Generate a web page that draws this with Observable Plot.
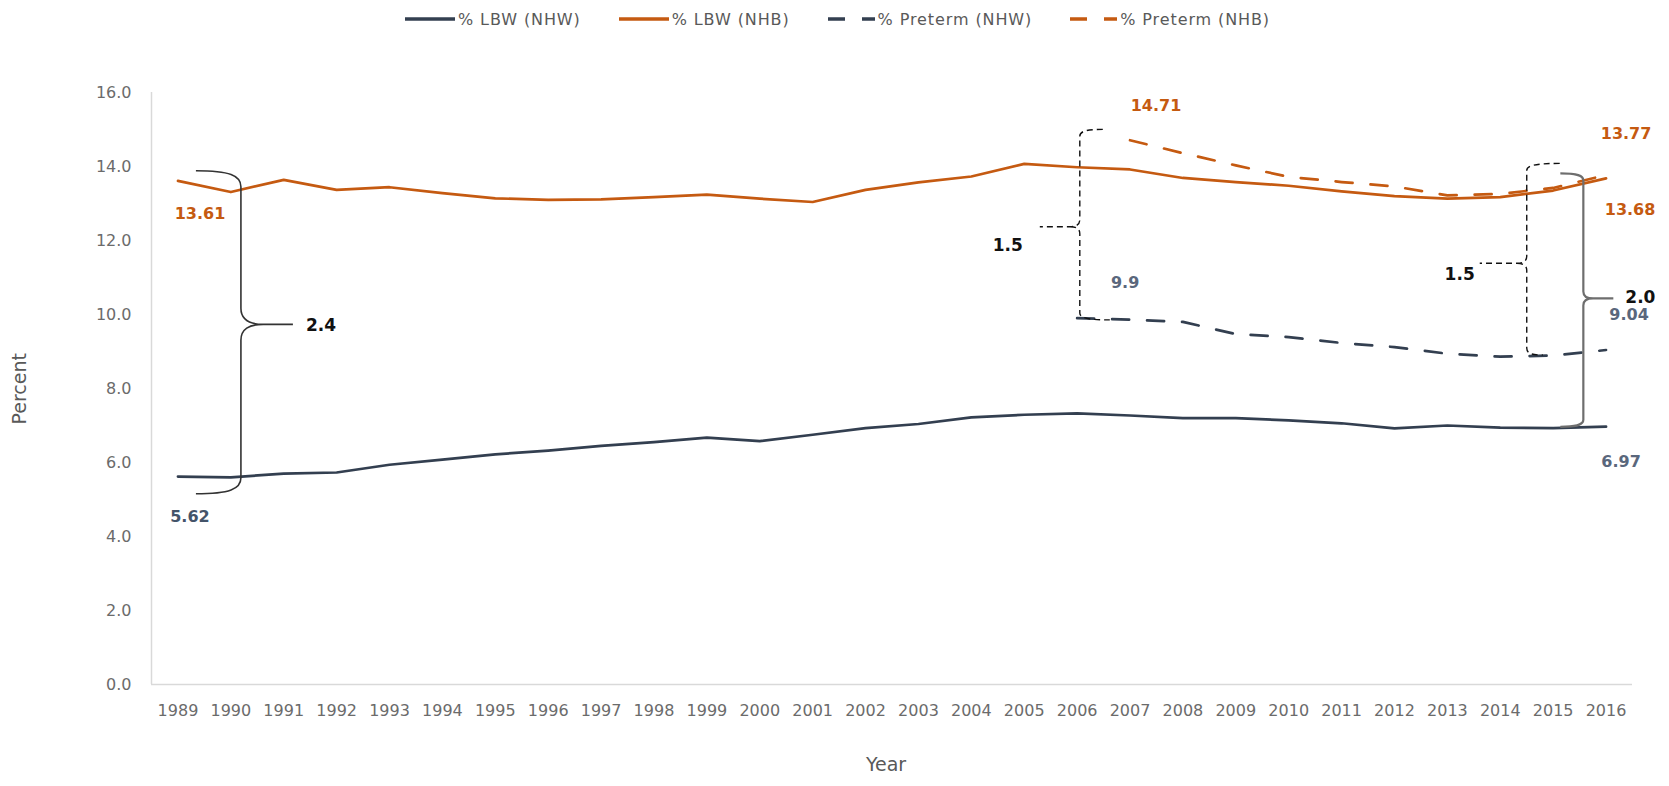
<!DOCTYPE html>
<html><head><meta charset="utf-8">
<script src="https://cdn.jsdelivr.net/npm/d3@7"></script>
<script src="https://cdn.jsdelivr.net/npm/@observablehq/plot@0.6"></script>
<style>
body{margin:0;background:#fff;font-family:"DejaVu Sans",sans-serif;}
#legend{height:38px;display:flex;justify-content:center;align-items:center;gap:38px;font-size:16px;letter-spacing:0.9px;color:#595959;padding-left:6px;box-sizing:border-box;width:1669px;}
.item{display:flex;align-items:center;gap:3px;white-space:nowrap;}
#chart svg{display:block;}
</style></head><body>
<div id="legend"></div>
<div id="chart"></div>
<script>
// ---- data ----
const years = [1989,1990,1991,1992,1993,1994,1995,1996,1997,1998,1999,2000,2001,2002,2003,2004,2005,2006,2007,2008,2009,2010,2011,2012,2013,2014,2015,2016];
const lbwNHW = [5.62,5.60,5.70,5.73,5.94,6.08,6.22,6.32,6.45,6.55,6.67,6.58,6.75,6.93,7.04,7.22,7.29,7.33,7.27,7.20,7.20,7.14,7.06,6.92,7.00,6.94,6.93,6.97];
const lbwNHB = [13.61,13.31,13.64,13.37,13.44,13.28,13.14,13.10,13.11,13.17,13.24,13.13,13.04,13.37,13.57,13.73,14.07,13.98,13.92,13.69,13.58,13.48,13.33,13.20,13.13,13.17,13.35,13.68];
const pretermYearsNHW = [2006,2007,2008,2009,2010,2011,2012,2013,2014,2015,2016];
const pretermNHW = [9.9,9.86,9.80,9.47,9.39,9.23,9.12,8.94,8.86,8.89,9.04];
const pretermYearsNHB = [2007,2008,2009,2010,2011,2012,2013,2014,2015,2016];
const pretermNHB = [14.71,14.36,14.03,13.72,13.58,13.46,13.22,13.26,13.42,13.77];
const seriesNames = ["% LBW (NHW)","% LBW (NHB)","% Preterm (NHW)","% Preterm (NHB)"];
const yTicks = [0,2,4,6,8,10,12,14,16];

// ---- styles ----
const NAVY = "#333f50", ORANGE = "#c55a11", NAVYLBL = "#44546a", NAVYLBL2 = "#5a677c";
const seriesStyle = {
  "% LBW (NHW)": {stroke: NAVY, dash: null},
  "% LBW (NHB)": {stroke: ORANGE, dash: null},
  "% Preterm (NHW)": {stroke: NAVY, dash: "17,18"},
  "% Preterm (NHB)": {stroke: ORANGE, dash: "17,18"}
};

// ---- table ----
const rows = [];
years.forEach((yr,i)=>{rows.push({year:yr,value:lbwNHW[i],series:seriesNames[0]});rows.push({year:yr,value:lbwNHB[i],series:seriesNames[1]});});
pretermYearsNHW.forEach((yr,i)=>rows.push({year:yr,value:pretermNHW[i],series:seriesNames[2]}));
pretermYearsNHB.forEach((yr,i)=>rows.push({year:yr,value:pretermNHB[i],series:seriesNames[3]}));
const bySeries = s => rows.filter(d=>d.series===s);
const first = s => bySeries(s)[0];
const last = s => { const a = bySeries(s); return a[a.length-1]; };

const xDomain = [years[0]-0.5, years[years.length-1]+0.5];
const yDomain = [yTicks[0], yTicks[yTicks.length-1]];

// ---- legend ----
const legend = document.getElementById("legend");
for (const s of seriesNames) {
  const st = seriesStyle[s];
  const w = st.dash ? 47 : 50;
  const item = document.createElement("div"); item.className = "item";
  item.innerHTML = `<svg width="${w}" height="8"><line x1="0" x2="${w}" y1="4" y2="4" stroke="${st.stroke}" stroke-width="3.5" ${st.dash?`stroke-dasharray="17,17"`:""}/></svg><span>${s}</span>`;
  legend.appendChild(item);
}

// ---- brace annotations (ratio of NHB to NHW) ----
const braces = [
  {x: 1990.2, lo: 5.14, hi: 13.87, mid: 9.72, dir: 1, armTop: 45, armBot: 45, tip: 52, r: 16, dashed: false, stroke: "#333", width: 1.6,
   hiVal: first("% LBW (NHB)").value, loVal: first("% LBW (NHW)").value, ldx: 13, ldy: 1},
  {x: 2006.06, lo: 9.84, hi: 14.99, mid: 12.36, dir: -1, armTop: 23, armBot: 30, tip: 40, r: 7, dashed: true, stroke: "#111", width: 1.4,
   hiVal: first("% Preterm (NHB)").value, loVal: first("% Preterm (NHW)").value, ldx: -17, ldy: 18},
  {x: 2014.51, lo: 8.89, hi: 14.07, mid: 11.37, dir: -1, armTop: 33, armBot: 16, tip: 47, r: 7, dashed: true, stroke: "#111", width: 1.4,
   hiVal: last("% Preterm (NHB)").value, loVal: last("% Preterm (NHW)").value, ldx: -5, ldy: 11},
  {x: 2015.58, lo: 6.95, hi: 13.8, mid: 10.42, dir: 1, armTop: 23, armBot: 23, tip: 30, r: 7, dashed: false, stroke: "#6e6e6e", width: 2.2,
   hiVal: last("% LBW (NHB)").value, loVal: last("% LBW (NHW)").value, ldx: 12, ldy: -1}
];

function braceMark(index, scales, values, dims) {
  const xs = scales && scales.x ? scales.x : d3.scaleLinear(xDomain, [dims.marginLeft, dims.width - dims.marginRight]);
  const ys = scales && scales.y ? scales.y : d3.scaleLinear(yDomain, [dims.height - dims.marginBottom, dims.marginTop]);
  const g = d3.create("svg:g");
  for (const b of braces) {
    const X = xs(b.x), Yt = ys(b.hi), Yb = ys(b.lo), Ym = ys(b.mid), s = b.dir, r = b.r;
    const p = [
      `M${X - s*b.armTop},${Yt}`,
      `C${X - s*b.armTop*0.25},${Yt} ${X},${Yt + r*0.3} ${X},${Yt + r}`,
      `L${X},${Ym - r}`,
      `C${X},${Ym - r*0.3} ${X + s*r*0.5},${Ym} ${X + s*r*1.4},${Ym}`,
      `L${X + s*b.tip},${Ym}`,
      `M${X + s*r*1.4},${Ym}`,
      `C${X + s*r*0.5},${Ym} ${X},${Ym + r*0.3} ${X},${Ym + r}`,
      `L${X},${Yb - r}`,
      `C${X},${Yb - r*0.3} ${X - s*b.armBot*0.25},${Yb} ${X - s*b.armBot},${Yb}`
    ].join(" ");
    g.append("path").attr("d", p).attr("fill", "none").attr("stroke", b.stroke)
      .attr("stroke-width", b.width).attr("stroke-dasharray", b.dashed ? "6,4" : null);
    g.append("text").attr("x", X + s*b.tip + b.ldx).attr("y", Ym + b.ldy)
      .attr("dy", "0.35em").attr("text-anchor", s > 0 ? "start" : "end")
      .attr("font-size", 17).attr("font-weight", "bold").attr("fill", "#111")
      .text((b.hiVal / b.loVal).toFixed(1));
  }
  return g.node();
}

const valueLabel = (d, dx, dy, fill) => Plot.text([d], {x: "year", y: "value", text: v => String(v.value), dx, dy, fill, fontWeight: "bold", fontSize: 16});

const lineMarks = seriesNames.map(s => Plot.line(bySeries(s), {
  x: "year", y: "value", stroke: seriesStyle[s].stroke, strokeWidth: 2.7,
  strokeDasharray: seriesStyle[s].dash || undefined, strokeLinejoin: "round"
}));

const chart = Plot.plot({
  width: 1669, height: 748,
  marginTop: 54, marginBottom: 102, marginLeft: 151, marginRight: 37,
  style: {fontFamily: "DejaVu Sans, sans-serif", fontSize: "16px", color: "#6b6b6b", background: "#fff"},
  x: {type: "linear", domain: xDomain, ticks: years, tickFormat: d => String(d), tickSize: 0, tickPadding: 20, label: null},
  y: {domain: yDomain, ticks: yTicks, tickFormat: d => d.toFixed(1), tickSize: 0, tickPadding: 20, label: null},
  marks: [
    Plot.ruleY([yDomain[0]], {x1: xDomain[0], x2: xDomain[1], stroke: "#d9d9d9", strokeWidth: 1.5}),
    Plot.ruleX([xDomain[0]], {y1: yDomain[0], y2: yDomain[1], stroke: "#d9d9d9", strokeWidth: 1.5}),
    ...lineMarks,
    braceMark,
    valueLabel(first("% LBW (NHB)"), 22, 33, ORANGE),
    valueLabel(first("% LBW (NHW)"), 12, 40, NAVYLBL),
    valueLabel(first("% Preterm (NHB)"), 26, -34, ORANGE),
    valueLabel(first("% Preterm (NHW)"), 48, -35, NAVYLBL2),
    valueLabel(last("% Preterm (NHB)"), 20, -41, ORANGE),
    valueLabel(last("% LBW (NHB)"), 24, 32, ORANGE),
    valueLabel(last("% Preterm (NHW)"), 23, -35, NAVYLBL2),
    valueLabel(last("% LBW (NHW)"), 15, 35, NAVYLBL2),
    Plot.text(["Percent"], {frameAnchor: "left", dx: -132, dy: 36, rotate: -90, fill: "#595959", fontSize: 19}),
    Plot.text(["Year"], {frameAnchor: "bottom", dx: -6, dy: 86, fill: "#595959", fontSize: 19})
  ]
});
document.getElementById("chart").appendChild(chart);
</script>
</body></html>
